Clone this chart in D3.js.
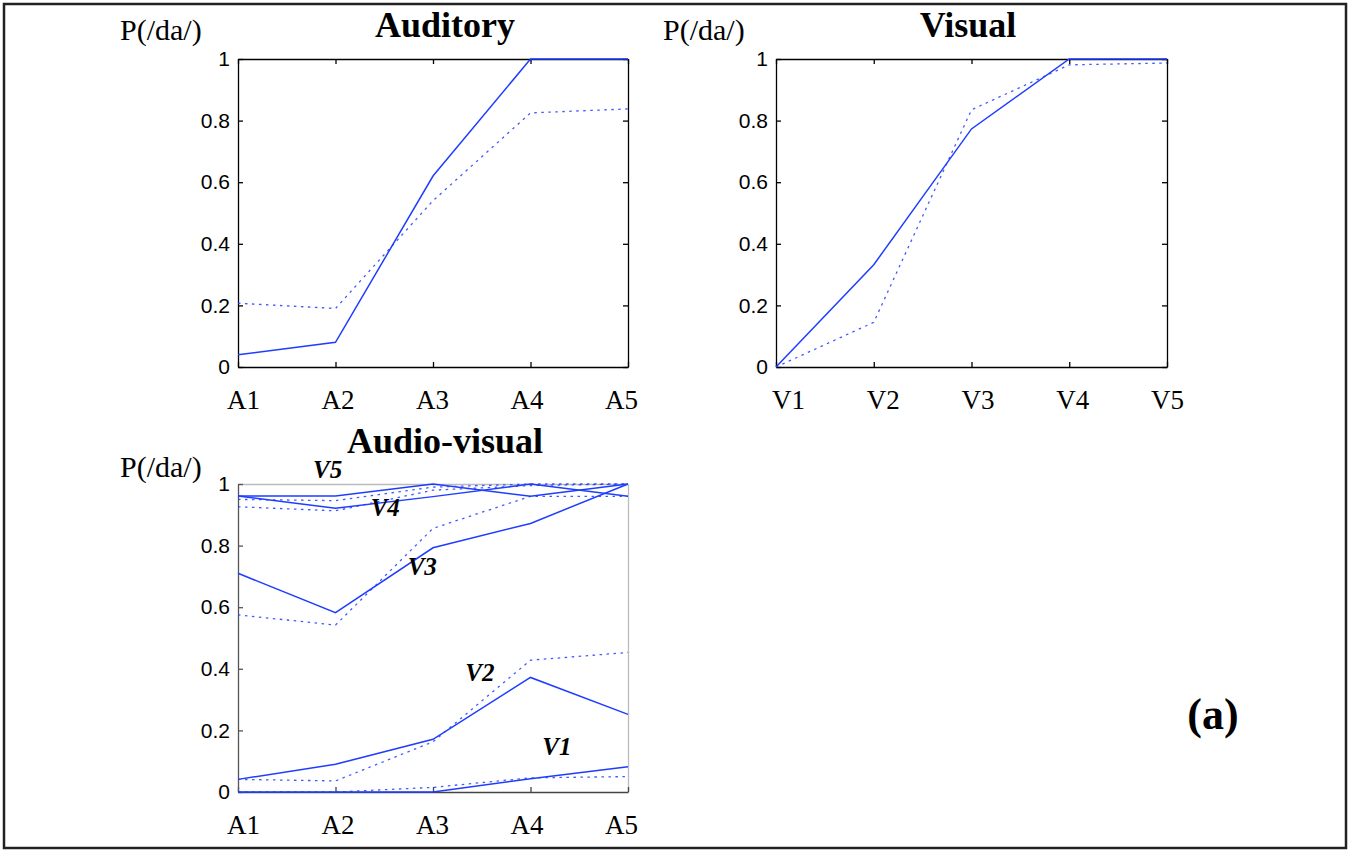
<!DOCTYPE html>
<meta charset="utf-8">
<style>
  body { margin: 0; background: #fff; }
  svg { display: block; }
</style>
<body>
<script src="https://d3js.org/d3.v7.min.js"></script>
<script>

// ---- data ----
var audLevels = ["A1", "A2", "A3", "A4", "A5"];
var visLevels = ["V1", "V2", "V3", "V4", "V5"];
var yTicks = [0, 0.2, 0.4, 0.6, 0.8, 1];

// Auditory alone: observed (solid) and predicted (dotted)
var audObserved  = [0.04, 0.08, 0.62, 1.0, 1.0];
var audPredicted = [0.207, 0.19, 0.54, 0.825, 0.838];

// Visual alone
var visObserved  = [0.0, 0.332, 0.773, 1.0, 1.0];
var visPredicted = [0.0, 0.145, 0.835, 0.981, 0.987];

// Audio-visual, one row per visual level (V1..V5), across A1..A5
var avObserved = [
  [0.0, 0.0, 0.0, 0.043, 0.082],
  [0.041, 0.09, 0.171, 0.372, 0.252],
  [0.71, 0.582, 0.793, 0.872, 1.0],
  [0.961, 0.921, 0.959, 1.0, 0.96],
  [0.961, 0.961, 1.0, 0.96, 1.0]
];
var avPredicted = [
  [0.0, 0.0, 0.015, 0.046, 0.05],
  [0.041, 0.036, 0.163, 0.428, 0.453],
  [0.575, 0.542, 0.856, 0.96, 0.96],
  [0.926, 0.913, 0.98, 0.995, 1.0],
  [0.95, 0.946, 0.99, 1.0, 1.0]
];
// where the V1..V5 tags sit, in (auditory index, P) units
var avTagX = [3.27, 2.48, 1.89, 1.51, 0.92];
var avTagY = [0.12, 0.36, 0.705, 0.896, 1.02];

// ---- page ----
var W = 1349, H = 851;
var blue = "#1f3dff";

var svg = d3.select("body").append("svg")
    .attr("width", W)
    .attr("height", H);

svg.append("rect")
    .attr("x", 4).attr("y", 4)
    .attr("width", W - 7).attr("height", H - 7)
    .attr("fill", "#fff")
    .attr("stroke", "#222")
    .attr("stroke-width", 2.5);

// draws one panel and returns its scales
function panel(opt) {
  var x = d3.scaleLinear().domain([0, 4]).range([opt.left, opt.right]);
  var y = d3.scaleLinear().domain([0, 1]).range([opt.bottom, opt.top]);
  var g = svg.append("g");
  var idx = d3.range(opt.cats.length);

  var frame = opt.av ? "#bbb" : "#000";

  // top and right edges
  var top = g.append("g")
      .attr("transform", "translate(0," + opt.top + ")")
      .call(d3.axisTop(x).tickValues(idx).tickSizeInner(opt.av ? 0 : -5)
            .tickSizeOuter(0).tickFormat(""));
  var right = g.append("g")
      .attr("transform", "translate(" + opt.right + ",0)")
      .call(d3.axisRight(y).tickValues(yTicks).tickSizeInner(opt.av ? 0 : -5)
            .tickSizeOuter(0).tickFormat(""));
  [top, right].forEach(function(a) {
    a.selectAll("path, line").attr("stroke", frame).attr("stroke-width", 1.3);
  });

  // bottom axis with category labels
  var bottom = g.append("g")
      .attr("transform", "translate(0," + opt.bottom + ")")
      .call(d3.axisBottom(x).tickValues(idx).tickSizeInner(-5).tickSizeOuter(0)
            .tickPadding(23).tickFormat(function(i) { return opt.cats[i]; }));
  bottom.selectAll("path, line")
      .attr("stroke", opt.av ? "#444" : "#000").attr("stroke-width", 1.3);
  bottom.selectAll("text")
      .attr("fill", "#000")
      .attr("dx", function(i) { return opt.labelShift - 3 * (i - 2); }) // labels sit a bit tighter than ticks
      .style("font-family", "'Liberation Serif', 'Times New Roman', serif")
      .style("font-size", "27px");

  // left axis
  var left = g.append("g")
      .attr("transform", "translate(" + opt.left + ",0)")
      .call(d3.axisLeft(y).tickValues(yTicks).tickSizeInner(-5).tickSizeOuter(0)
            .tickPadding(8).tickFormat(d3.format("~g")));
  left.selectAll("path, line")
      .attr("stroke", opt.av ? "#555" : "#000").attr("stroke-width", 1.3);
  left.selectAll("text")
      .attr("fill", "#000")
      .style("font-family", "'Liberation Sans', Arial, sans-serif")
      .style("font-size", "21px");

  // title and y label
  g.append("text")
      .attr("x", opt.titleX)
      .attr("y", opt.top - (opt.av ? 31 : 22))
      .attr("text-anchor", "middle")
      .style("font-family", "'Liberation Serif', 'Times New Roman', serif")
      .style("font-weight", "bold")
      .style("font-size", "36px")
      .text(opt.title);

  g.append("text")
      .attr("x", opt.left - opt.ylabOffset)
      .attr("y", opt.top - (opt.av ? 7 : 19))
      .style("font-family", "'Liberation Serif', 'Times New Roman', serif")
      .style("font-size", "30px")
      .text("P(/da/)");

  return {g: g, x: x, y: y};
}

function drawLine(p, values, dotted) {
  var line = d3.line()
      .x(function(d, i) { return p.x(i); })
      .y(function(d) { return p.y(d); });
  p.g.append("path")
      .datum(values)
      .attr("d", line)
      .attr("fill", "none")
      .attr("stroke", blue)
      .attr("stroke-width", dotted ? 1.3 : 1.5)
      .attr("stroke-opacity", dotted ? 0.85 : 1)
      .attr("stroke-dasharray", dotted ? "2.5,4.5" : null);
}

// Auditory
var aud = panel({left: 238, right: 628, top: 59, bottom: 367, labelShift: -1,
                 cats: audLevels, title: "Auditory", titleX: 445, ylabOffset: 118});
drawLine(aud, audPredicted, true);
drawLine(aud, audObserved, false);

// Visual
var vis = panel({left: 776, right: 1167, top: 59, bottom: 367, labelShift: 6,
                 cats: visLevels, title: "Visual", titleX: 968, ylabOffset: 113});
drawLine(vis, visPredicted, true);
drawLine(vis, visObserved, false);

// Audio-visual
var av = panel({left: 238, right: 628, top: 484, bottom: 792, av: true, labelShift: -1,
                cats: audLevels, title: "Audio-visual", titleX: 445, ylabOffset: 118});
avPredicted.forEach(function(v) { drawLine(av, v, true); });
avObserved.forEach(function(v) { drawLine(av, v, false); });

av.g.selectAll(".vtag")
    .data(visLevels)
    .enter().append("text")
    .attr("class", "vtag")
    .attr("x", function(d, i) { return av.x(avTagX[i]); })
    .attr("y", function(d, i) { return av.y(avTagY[i]); })
    .attr("text-anchor", "middle")
    .style("font-family", "'Liberation Serif', 'Times New Roman', serif")
    .style("font-weight", "bold")
    .style("font-style", "italic")
    .style("font-size", "25px")
    .text(function(d) { return d; });

// panel tag
svg.append("text")
    .attr("x", 1213)
    .attr("y", 729)
    .attr("text-anchor", "middle")
    .style("font-family", "'Liberation Serif', 'Times New Roman', serif")
    .style("font-weight", "bold")
    .style("font-size", "44px")
    .text("(a)");

</script>
</body>
</html>
